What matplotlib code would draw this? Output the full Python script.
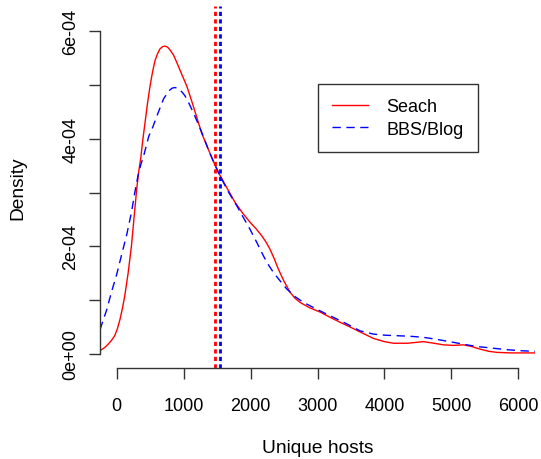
import matplotlib
matplotlib.use("Agg")
import matplotlib.pyplot as plt

plt.rcParams['font.family'] = ['Liberation Sans', 'DejaVu Sans']

# density estimates (x in hosts, y in units of 1e-4)
search_x = [-250, -229, -180, -130, -80, -30, 10, 50, 85, 120, 170, 220, 260,
            299, 330, 359, 390, 423, 460, 498, 535, 572, 610, 647, 685, 722,
            760, 796, 850, 896, 970, 1046, 1120, 1190, 1270, 1366, 1440, 1516,
            1640, 1766, 1880, 1990, 2080, 2165, 2230, 2289, 2350, 2414, 2500,
            2589, 2660, 2738, 2880, 3038, 3190, 3337, 3490, 3636, 3835, 4000,
            4134, 4350, 4583, 4740, 4883, 5030, 5182, 5300, 5432, 5560, 5682,
            5900, 6100, 6250]
search_y = [0.06, 0.08, 0.12, 0.18, 0.25, 0.34, 0.47, 0.65, 0.85, 1.08, 1.50,
            2.01, 2.55, 3.07, 3.40, 3.64, 3.98, 4.30, 4.66, 4.98, 5.24, 5.45,
            5.58, 5.67, 5.71, 5.72, 5.70, 5.65, 5.55, 5.42, 5.20, 4.98, 4.70,
            4.42, 4.10, 3.81, 3.59, 3.38, 3.10, 2.82, 2.62, 2.45, 2.33, 2.20,
            2.08, 1.95, 1.78, 1.58, 1.35, 1.15, 1.04, 0.96, 0.86, 0.78, 0.68,
            0.59, 0.50, 0.41, 0.29, 0.23, 0.20, 0.20, 0.23, 0.20, 0.17, 0.16,
            0.17, 0.14, 0.09, 0.05, 0.03, 0.02, 0.02, 0.02]

blog_x = [-250, -229, -150, -79, 0, 70, 150, 220, 270, 319, 360, 398, 480, 540,
          618, 700, 780, 830, 868, 910, 940, 980, 1018, 1090, 1167, 1270,
          1366, 1440, 1516, 1650, 1791, 1890, 1990, 2090, 2189, 2260, 2339,
          2440, 2539, 2660, 2788, 2960, 3138, 3290, 3437, 3636, 3835, 4000,
          4185, 4380, 4583, 4740, 4883, 5060, 5233, 5380, 5532, 5680, 5831,
          6050, 6250]
blog_y = [0.45, 0.53, 0.82, 1.15, 1.48, 1.83, 2.22, 2.63, 3.00, 3.32, 3.52,
          3.66, 4.05, 4.22, 4.48, 4.74, 4.89, 4.94, 4.95, 4.94, 4.91, 4.86,
          4.80, 4.63, 4.42, 4.12, 3.81, 3.59, 3.38, 3.05, 2.76, 2.54, 2.32,
          2.08, 1.83, 1.67, 1.52, 1.36, 1.21, 1.07, 0.96, 0.85, 0.74, 0.65,
          0.56, 0.43, 0.37, 0.35, 0.34, 0.33, 0.31, 0.28, 0.25, 0.21, 0.17,
          0.14, 0.12, 0.10, 0.08, 0.06, 0.05]

search_mean = 1469
blog_mean = 1543

x_ticks = [0, 1000, 2000, 3000, 4000, 5000, 6000]
y_ticks = [0, 1e-4, 2e-4, 3e-4, 4e-4, 5e-4, 6e-4]
y_tick_labels = ['0e+00', '', '2e-04', '', '4e-04', '', '6e-04']

fig = plt.figure(figsize=(5.41, 4.60), dpi=100)
ax = fig.add_axes([100 / 541, 1 - 369 / 460, 435 / 541, 362 / 460])

ax.plot(search_x, [v * 1e-4 for v in search_y], color='#FF0000', lw=1.0,
        label='Seach')
ax.plot(blog_x, [v * 1e-4 for v in blog_y], color='#0000FF', lw=1.0,
        dashes=(6, 4), label='BBS/Blog')
ax.axvline(search_mean, color='#FF0000', lw=2, dashes=(1.5, 1.2))
ax.axvline(blog_mean, color='#0000FF', lw=2, dashes=(1.5, 1.2))

ax.set_xlim(-250, 6250)
ax.set_ylim(-0.26e-4, 6.465e-4)

# R-style detached axes
for side in ['top', 'right']:
    ax.spines[side].set_visible(False)
ax.spines['left'].set_bounds(0, 6e-4)
ax.spines['bottom'].set_bounds(0, 6000)
for side in ['left', 'bottom']:
    ax.spines[side].set_linewidth(1.0)
    ax.spines[side].set_color('#333333')

ax.set_xticks(x_ticks)
ax.set_xticklabels([str(t) for t in x_ticks])
ax.set_yticks(y_ticks)
ax.set_yticklabels(y_tick_labels, rotation=90, va='center')
ax.tick_params(axis='both', direction='out', length=8, width=1.0,
               color='#333333', labelsize=13)
ax.tick_params(axis='x', pad=13)
ax.tick_params(axis='y', pad=7)

ax.set_xlabel('Unique hosts', fontsize=13.8)
ax.set_ylabel('Density', fontsize=13.8)
ax.xaxis.set_label_coords(0.5, -0.195)
ax.yaxis.set_label_coords(-0.17, 0.5)

leg = ax.legend(loc='upper left', bbox_to_anchor=(0.501, 0.785),
                fontsize=13, frameon=True, fancybox=False, edgecolor='black',
                handlelength=2.0, handletextpad=1.0, labelspacing=0.3,
                borderpad=0.8, borderaxespad=0)
leg.get_frame().set_linewidth(1.0)

plt.savefig('out.png', dpi=100)
